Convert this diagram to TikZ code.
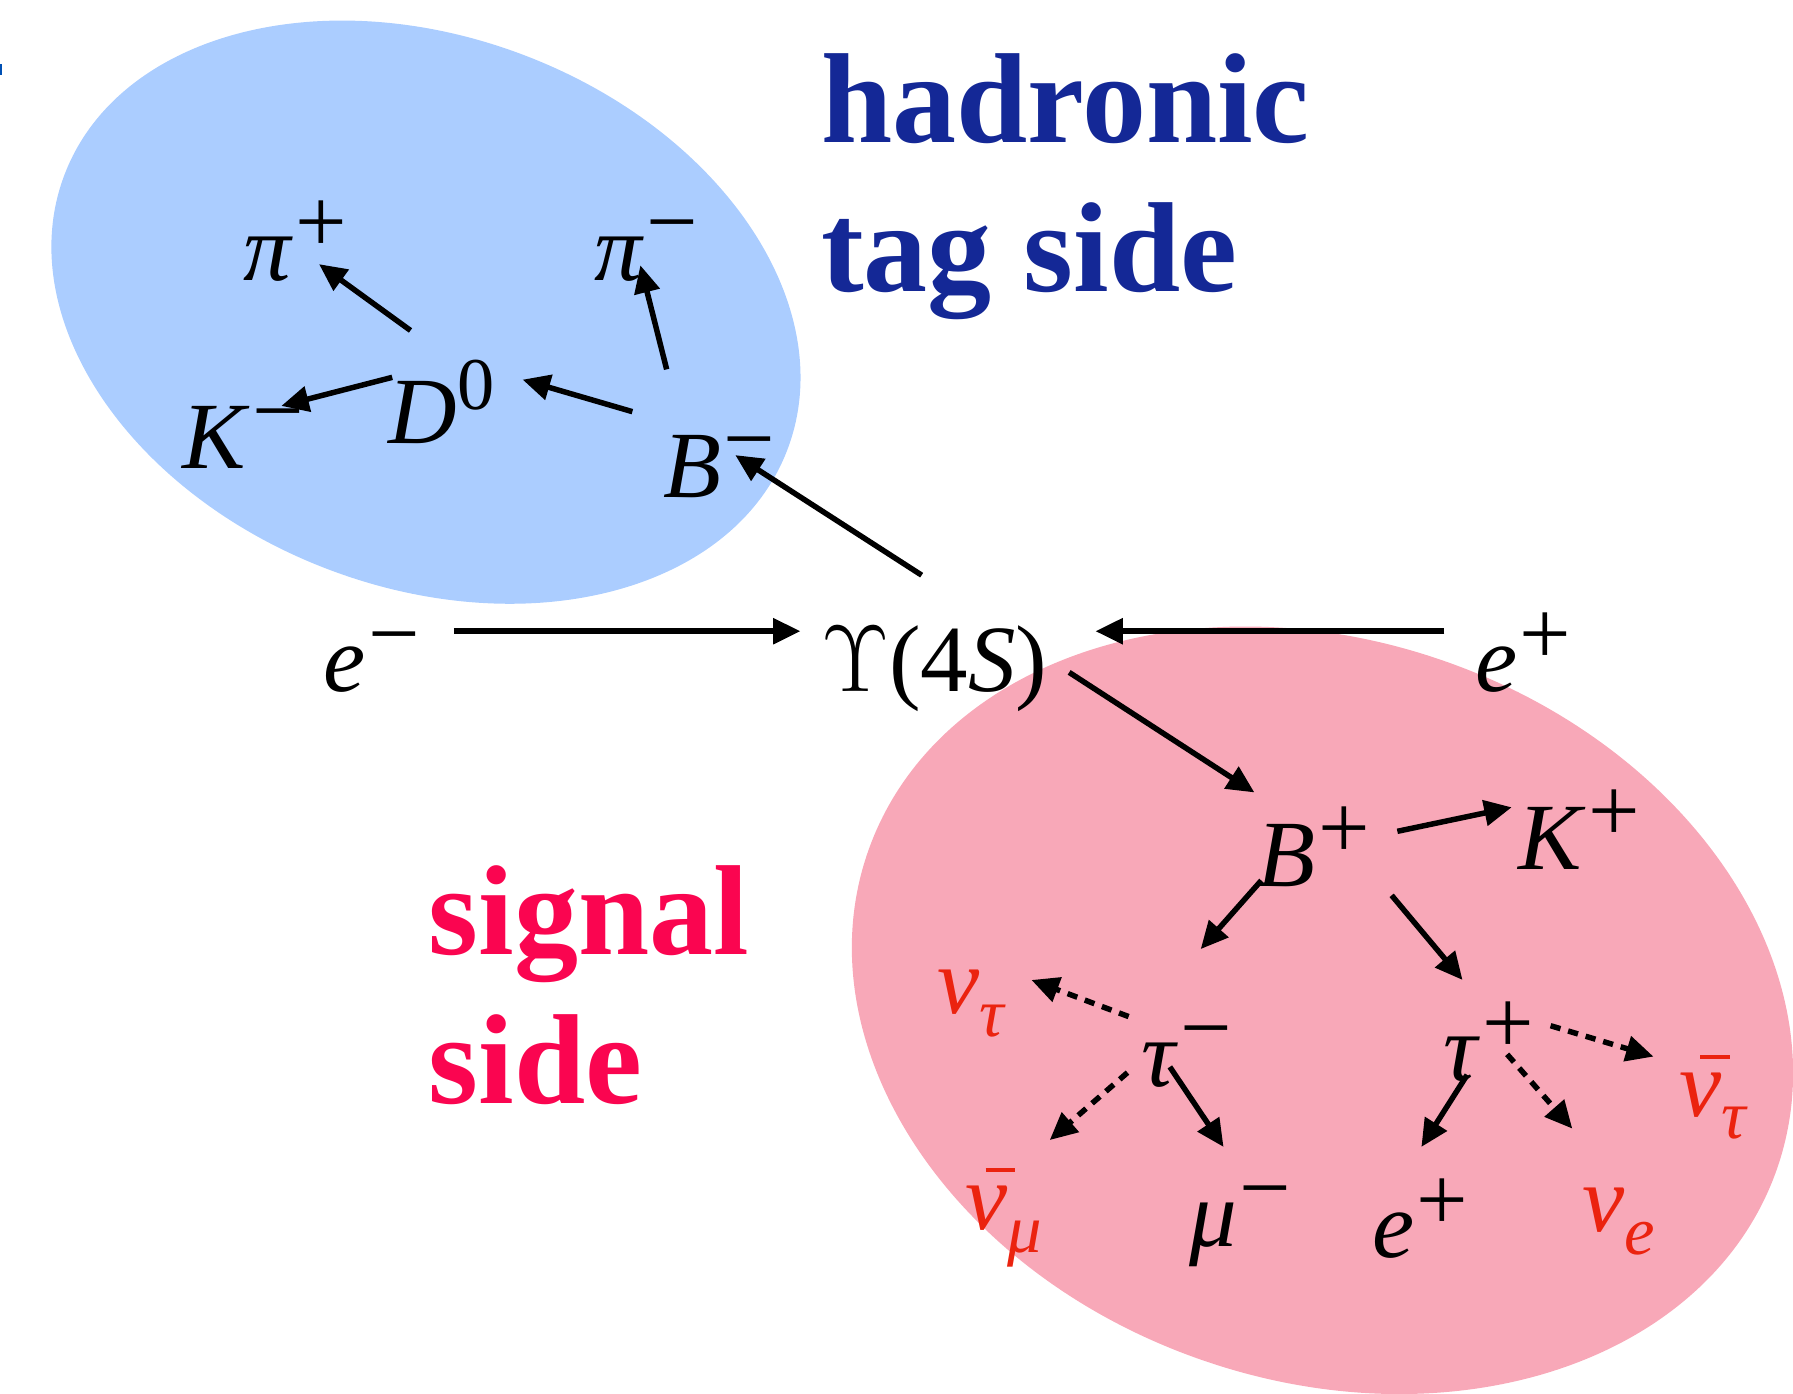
\RequirePackage{fix-cm}
\documentclass[tikz,border=0pt]{standalone}
\usepackage{fontspec}
\setmainfont{Liberation Serif}
\usetikzlibrary{arrows.meta,calc}
\definecolor{bluefill}{RGB}{171,205,255}
\definecolor{pinkfill}{RGB}{248,168,184}
\definecolor{ttlblue}{RGB}{20,40,150}
\definecolor{ttlred}{RGB}{250,5,80}
\definecolor{nured}{RGB}{235,35,15}
\definecolor{tickblue}{RGB}{0,80,180}
\newcommand\bigsz{\fontsize{41.5}{48}\selectfont}
\newcommand\supsz{\fontsize{40}{46}\selectfont}
\newcommand\digsz{\fontsize{32.5}{38}\selectfont}
\newcommand\subsz{\fontsize{30}{36}\selectfont}
\newcommand\ttlsz{\fontsize{56}{65}\selectfont}
\newcommand\sups[1]{\kern1pt\raisebox{12pt}{\supsz #1}}
\newcommand\supd[1]{\raisebox{15pt}{\digsz #1}}
\newcommand\subs[1]{\raisebox{-10pt}{\subsz\itshape #1}}
\newcommand\nubar{\makebox[0pt][l]{\hspace{9pt}\rule[25pt]{13pt}{1.6pt}}\textit{ν}}
\begin{document}
\begin{tikzpicture}[x=0.5pt,y=-0.5pt,
  lbl/.style={inner sep=0pt,outer sep=0pt,anchor=base west,font=\bigsz},
  nul/.style={lbl,text=nured},
  arr/.style={line width=2.4pt,-{Triangle[length=12pt,width=11pt]}},
  darr/.style={arr,dash pattern=on 4.5pt off 3.5pt},
  ttl/.style={inner sep=0pt,outer sep=0pt,anchor=base west,font=\ttlsz\bfseries}]
\useasboundingbox (0,0) rectangle (1568,1219);
% regions
\fill[bluefill,rotate around={-20.8:(372.5,273)}] (372.5,273) ellipse [x radius=338.2,y radius=240.6];
\fill[pinkfill,rotate around={-19.3:(1156.5,883.5)}] (1156.5,883.5) ellipse [x radius=421,y radius=323.5];
\fill[tickblue] (0,56) rectangle (2,66);
% titles
\node[ttl,text=ttlblue] (h1) at (718,125) {hadronic};
\node[ttl,text=ttlblue] (h2) at (718,255) {tag side};
\node[ttl,text=ttlred] (s1) at (375,835) {signal};
\node[ttl,text=ttlred] (s2) at (375,965) {side};
% particles
\node[lbl] (pip) at (213,245) {\textit{π}\sups{+}};
\node[lbl] (pim) at (520,245) {\textit{π}\sups{−}};
\node[lbl] (Km) at (160,410) {\textit{K}\sups{−}};
\node[lbl] (Dz) at (340,388) {\textit{D}\supd{0}};
\node[lbl] (Bm) at (580,435) {\textit{B}\sups{−}};
\node[lbl] (em) at (283,605) {\textit{e}\sups{−}};
\node[lbl] (Ups) at (718,605) {$\Upsilon$(4\textit{S})};
\node[lbl] (ep) at (1290,605) {\textit{e}\sups{+}};
\node[lbl] (Bp) at (1100,775) {\textit{B}\sups{+}};
\node[lbl] (Kp) at (1328,760) {\textit{K}\sups{+}};
\node[nul] (nut) at (820,886) {\textit{ν}\subs{τ}};
\node[lbl] (taum) at (998,950) {\textit{τ}\sups{−}};
\node[lbl] (taup) at (1262,945) {\textit{τ}\sups{+}};
\node[nul] (nutb) at (1469,976) {\nubar\subs{τ}};
\node[nul] (numb) at (844,1075) {\nubar\subs{μ}};
\node[lbl] (mum) at (1040,1090) {\textit{μ}\sups{−}};
\node[lbl] (epp) at (1200,1100) {\textit{e}\sups{+}};
\node[nul] (nue) at (1384,1077) {\textit{ν}\subs{e}};
% connectors
\draw[arr] ($(em.base west)+(114,-53)$) -- ($(Ups.base west)+(-18,-53)$);
\draw[arr] ($(ep.base west)+(-27,-53)$) -- ($(Ups.base west)+(240,-53)$);
\draw[arr] ($(Ups.base west)+(88,-102)$) -- ($(Bm.base west)+(63,-37)$);
\draw[arr] ($(Bm.base west)+(-27,-75)$) -- ($(Dz.base west)+(117,-56)$);
\draw[arr] ($(Bm.base west)+(3,-112)$) -- ($(pim.base west)+(40,-13)$);
\draw[arr] ($(Dz.base west)+(3,-58)$) -- ($(Km.base west)+(86,-55)$);
\draw[arr] ($(Dz.base west)+(19,-99)$) -- ($(pip.base west)+(66,-14)$);
\draw[arr] ($(Ups.base west)+(217,-17)$) -- ($(Bp.base west)+(-3,-82)$);
\draw[arr] ($(Bp.base west)+(122,-48)$) -- ($(Kp.base west)+(-6,-54)$);
\draw[arr] ($(Bp.base west)+(3,-5)$) -- ($(taum.base west)+(52,-120)$);
\draw[arr] ($(Bp.base west)+(117,8)$) -- ($(taup.base west)+(17,-88)$);
\draw[darr] ($(taum.base west)+(-11,-61)$) -- ($(nut.base west)+(82,-29)$);
\draw[darr] ($(taum.base west)+(-12,-12)$) -- ($(numb.base west)+(74,-78)$);
\draw[arr] ($(taum.base west)+(25,-17)$) -- ($(mum.base west)+(30,-87)$);
\draw[darr] ($(taup.base west)+(94,-48)$) -- ($(nutb.base west)+(-23,-52)$);
\draw[arr] ($(taup.base west)+(21,-5)$) -- ($(epp.base west)+(43,-97)$);
\draw[darr] ($(taup.base west)+(56,-23)$) -- ($(nue.base west)+(-9,-90)$);
\end{tikzpicture}
\end{document}
